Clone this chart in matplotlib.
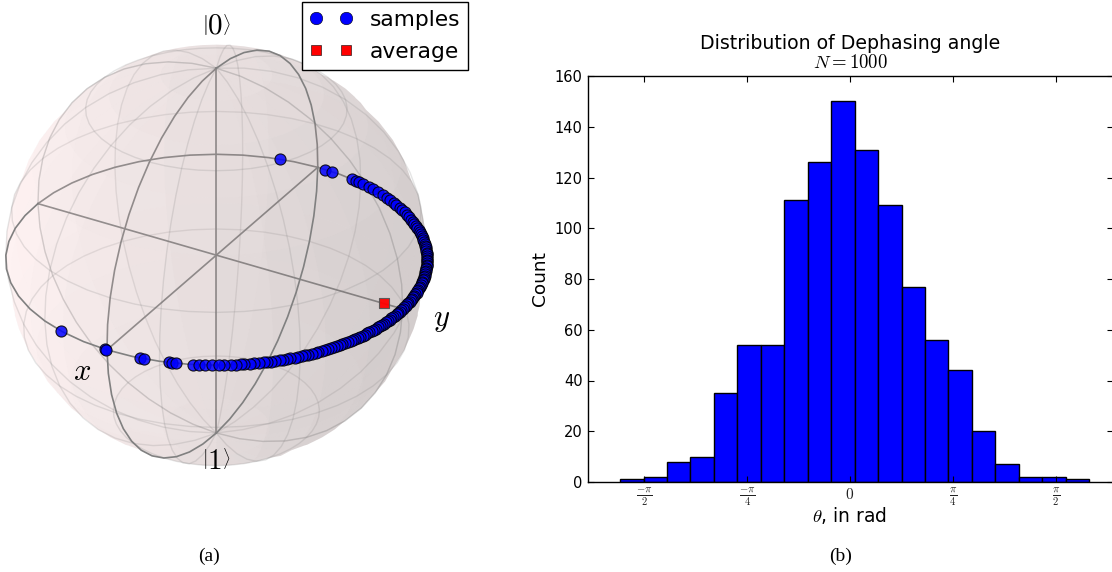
import numpy as np
import matplotlib
matplotlib.use("Agg")
import matplotlib.pyplot as plt
from matplotlib.lines import Line2D
from matplotlib.transforms import Bbox
from mpl_toolkits.mplot3d import Axes3D  # noqa

plt.rcParams['mathtext.fontset'] = 'cm'
plt.rcParams['font.family'] = 'DejaVu Sans'

# --- Data -----------------------------------------------------------------
bin_edges = [-1.7515, -1.5728, -1.3941, -1.2154, -1.0367, -0.8580, -0.6793,
             -0.5006, -0.3219, -0.1432, 0.0355, 0.2142, 0.3929, 0.5716,
             0.7503, 0.9290, 1.1077, 1.2864, 1.4651, 1.6438, 1.8225]
counts = [1, 2, 8, 10, 35, 54, 54, 111, 126, 150, 131, 109, 77, 56, 44, 20,
          7, 2, 2, 1]
x_ticks = [-np.pi/2, -np.pi/4, 0, np.pi/4, np.pi/2]
x_tick_labels = [r'$\frac{-\pi}{2}$', r'$\frac{-\pi}{4}$', r'$0$',
                 r'$\frac{\pi}{4}$', r'$\frac{\pi}{2}$']
y_ticks = [0, 20, 40, 60, 80, 100, 120, 140, 160]

# sample angles on the equator, in degrees from the y axis
sample_angles_deg = [
    -105.8, -90.6, -90.2, -80.4, -79.3, -72.5, -71.7, -70.6, -66.2, -64.4,
    -62.9, -61.0, -59.2, -58.1, -56.3, -55.0, -53.6, -52.7, -51.2, -50.1,
    -48.9, -47.6, -46.8, -45.5, -44.6, -43.2, -42.4, -41.1, -40.3, -39.0,
    -38.2, -37.1, -36.0, -35.2, -34.1, -33.0, -32.3, -31.2, -30.1, -29.4,
    -28.3, -27.5, -26.4, -25.6, -24.7, -23.8, -22.9, -22.0, -21.1, -20.3,
    -19.4, -18.6, -17.7, -16.9, -16.0, -15.2, -14.3, -13.5, -12.6, -11.8,
    -10.9, -10.1, -9.2, -8.4, -7.5, -6.7, -5.8, -5.0, -4.1, -3.3,
    -2.4, -1.6, -0.7, 0.1, 1.0, 1.8, 2.7, 3.5, 4.4, 5.2,
    6.1, 6.9, 7.8, 8.6, 9.5, 10.3, 11.2, 12.0, 12.9, 13.7,
    14.6, 15.4, 16.3, 17.1, 18.0, 18.8, 19.7, 20.6, 21.4, 22.3,
    23.2, 24.0, 24.9, 25.8, 26.7, 27.6, 28.5, 29.4, 30.4, 31.3,
    32.3, 33.2, 34.2, 35.2, 36.2, 37.2, 38.3, 39.4, 40.4, 41.5,
    42.7, 43.8, 45.0, 46.2, 47.5, 48.8, 50.1, 51.5, 53.0, 54.4,
    56.0, 57.4, 59.1, 60.6, 62.4, 64.0, 65.9, 67.8, 69.9, 71.8,
    74.0, 75.6, 76.7, 78.3, 85.2, 87.5, 101.6,
]
average_y = 0.90

legend_labels = ['samples', 'average']

# --- Figure ---------------------------------------------------------------
W, H = 1112, 572
fig = plt.figure(figsize=(W/100, H/100), dpi=100, facecolor='white')

# Bloch sphere
R_px = 432
ax3 = fig.add_axes([-5.5/W, (H-261-R_px/2)/H, R_px/W, R_px/H], projection='3d',
                   computed_zorder=False)
ax3.set_proj_type('persp', focal_length=1.8)
ax3.view_init(elev=30, azim=-60)
ax3.set_xlim(-1.3, 1.3); ax3.set_ylim(-1.3, 1.3); ax3.set_zlim(-1.3, 1.3)
ax3.set_box_aspect((1, 1, 1), zoom=2.13)
ax3.set_axis_off()
ax3.patch.set_alpha(0)

u = np.linspace(0, np.pi, 25)
v = np.linspace(0, np.pi, 25)
FRAME = 'gray'
LIGHT = np.array([-0.8, -0.55, 0.15])
LIGHT = LIGHT/np.linalg.norm(LIGHT)
BASE = np.array([1.0, 0xDD/255, 0xDD/255])


def hemisphere(sign, z0):
    x = np.outer(np.cos(u), np.sin(v))
    y = sign*np.outer(np.sin(u), np.sin(v))
    z = np.outer(np.ones_like(u), np.cos(v))
    # shade each facet from its outward normal, dimming to half at the far side
    k = 0.5 + 0.5*(x*LIGHT[0] + y*LIGHT[1] + z*LIGHT[2] + 1)/2
    fc = np.dstack([k*BASE[0], k*BASE[1], k*BASE[2], 0.2*np.ones_like(k)])
    ax3.plot_surface(x, y, z, rstride=2, cstride=2, facecolors=fc, shade=False,
                     linewidth=0, zorder=z0)
    ax3.plot_wireframe(x, y, z, rstride=5, cstride=5, color=FRAME, alpha=0.2,
                       linewidth=1, zorder=z0+0.1)
    ax3.plot(np.cos(u), sign*np.sin(u), zs=0, zdir='z', lw=1.2, color=FRAME,
             zorder=z0+0.2)
    ax3.plot(np.cos(u), sign*np.sin(u), zs=0, zdir='x', lw=1.2, color=FRAME,
             zorder=z0+0.2)


hemisphere(1, 1)
span = np.array([-1.0, 1.0])
ax3.plot(span, 0*span, zs=0, zdir='z', lw=1.2, color=FRAME, zorder=2)
ax3.plot(0*span, span, zs=0, zdir='z', lw=1.2, color=FRAME, zorder=2)
ax3.plot(0*span, span, zs=0, zdir='y', lw=1.2, color=FRAME, zorder=2)
hemisphere(-1, 3)

phi = np.radians(90 + np.array(sample_angles_deg))
real_x, real_y = np.cos(phi), np.sin(phi)
ax3.scatter(real_y, -real_x, 0*phi, s=64, c='blue', marker='o',
            edgecolors='k', linewidths=0.8, alpha=0.85, depthshade=False,
            zorder=5)
ax3.scatter([average_y], [0], [0], s=55, c='red', marker='s', edgecolors='#555555',
            linewidths=0.8, alpha=0.95, depthshade=False, zorder=6)
for artist in ax3.lines + list(ax3.collections):
    artist.set_clip_on(False)

# Sphere labels
label_fs = 21
fig.text(216/W, 1-26/H, r'$\left|0\right\rangle$', fontsize=label_fs, ha='center', va='center')
fig.text(216/W, 1-461/H, r'$\left|1\right\rangle$', fontsize=label_fs, ha='center', va='center',
         clip_on=True, clip_box=Bbox([[0, H-471], [W, H]]))
fig.text(82/W, 1-371/H, r'$x$', fontsize=22, ha='center', va='center')
fig.text(442/W, 1-320/H, r'$y$', fontsize=22, ha='center', va='center')

handles = [
    Line2D([], [], ls='none', marker='o', color='blue', mec='k', mew=0.4, ms=9),
    Line2D([], [], ls='none', marker='s', color='red', mec='k', mew=0.4, ms=7.5),
]
fig.legend(handles, legend_labels, loc='upper left', numpoints=2,
           bbox_to_anchor=(302/W, 1-2/H), borderaxespad=0, fontsize=15.7,
           fancybox=False, framealpha=1, edgecolor='k', handletextpad=0.78,
           borderpad=0.36, labelspacing=0.55, handlelength=1.95).get_frame().set_linewidth(1.0)

# Histogram
ax = fig.add_axes([587.5/W, (H-482)/H, (1112.5-587.5)/W, (482-76)/H])
edges = np.array(bin_edges)
ax.bar(edges[:-1], counts, width=np.diff(edges), align='edge', color='blue',
       edgecolor='k', linewidth=1.0)
ax.set_xlim(-2, 2)
ax.set_ylim(0, 160)
ax.set_xticks(x_ticks)
ax.set_xticklabels(x_tick_labels, fontsize=11, color='#222222')
ax.set_yticks(y_ticks)
ax.tick_params(axis='both', direction='in', top=True, right=True, length=4,
               width=0.8, zorder=5)
ax.tick_params(axis='y', labelsize=10.5)
ax.set_axisbelow(False)
ax.set_ylabel('Count', fontsize=13.3, labelpad=4)
ax.set_xlabel(r'$\theta$, in rad', fontsize=13.5, labelpad=-2)
for s in ax.spines.values():
    s.set_linewidth(1.0)
fig.text(850/W, 1-43.5/H, 'Distribution of Dephasing angle', fontsize=13.6, ha='center', va='center')
fig.text(850/W, 1-63/H, r'$N=1000$', fontsize=13.5, ha='center', va='center')

# Sub-figure captions
fig.text(209/W, 1-556/H, '(a)', family='Liberation Serif', fontsize=14, ha='center', va='center')
fig.text(841/W, 1-556/H, '(b)', family='Liberation Serif', fontsize=14, ha='center', va='center')

fig.savefig('out.png', dpi=100)
